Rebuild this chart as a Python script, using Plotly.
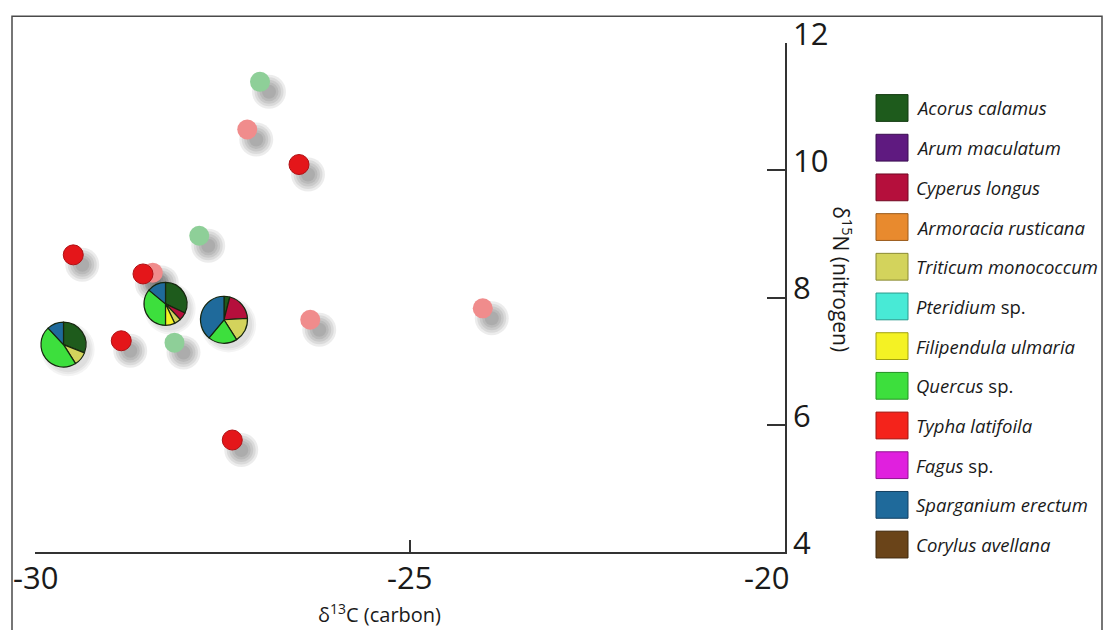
import plotly.graph_objects as go

# ---- figure geometry -------------------------------------------------------
W, H = 1108, 630
ML, MR, MT, MB = 35, 323, 39, 78
X_RANGE = [-30, -20]
Y_RANGE = [4, 12]
PLOT_W = W - ML - MR
PLOT_H = H - MT - MB

# ---- data ------------------------------------------------------------------
# δ13C (x) / δ15N (y) values of single samples
red_x = [-29.49, -28.56, -28.85, -27.37, -26.48]
red_y = [8.67, 8.37, 7.32, 5.76, 10.09]
pale_red_x = [-28.43, -27.17, -26.33, -24.03]
pale_red_y = [8.39, 10.64, 7.65, 7.83]
pale_green_x = [-27.00, -27.81, -28.14]
pale_green_y = [11.39, 8.97, 7.29]

# composite samples shown as pies (percent of each taxon)
pie_x = [-29.62, -28.26, -27.48]
pie_y = [7.26, 7.90, 7.65]

species = [
    "Acorus calamus", "Arum maculatum", "Cyperus longus", "Armoracia rusticana",
    "Triticum monococcum", "Pteridium sp.", "Filipendula ulmaria", "Quercus sp.",
    "Typha latifoila", "Fagus sp.", "Sparganium erectum", "Corylus avellana",
]
pie_values = [
    [31, 0, 0, 0, 10, 0, 0, 47, 0, 0, 12, 0],
    [32, 0, 6, 0, 5, 0, 7, 36, 0, 0, 14, 0],
    [4, 0, 20, 0, 17, 0, 0, 20, 0, 0, 39, 0],
]

x_ticks = [-30, -25, -20]
x_tick_text = ["-30", "-25", "-20"]
y_ticks = [4, 6, 8, 10, 12]
y_tick_text = ["4", "6", "8", "10", "12"]

# ---- styles ----------------------------------------------------------------
species_colors = [
    "#1e5b1c", "#5f1a80", "#b50f3c", "#e88a2e", "#d3d35c", "#48ead6",
    "#f4f224", "#3ddf3d", "#f4231b", "#e020de", "#1f6a9b", "#6a4419",
]
species_edges = [
    "#123a10", "#3a0e50", "#700822", "#9a5a1a", "#8a8a30", "#2a9a8c",
    "#a0a010", "#229022", "#a01510", "#901090", "#123f60", "#3f280c",
]
x_label_anchor = ["center", "center", "right"]
x_label_shift = [0, -1, 5]
pie_radius_px = [22.7, 21.7, 23.7]
POINT_SIZE = 20
SHADOW_DX_PX, SHADOW_DY_PX = 9, 10
FONT = "Open Sans, Noto Sans, sans-serif"
TXT = "#1a1a1a"

x_per_px = (X_RANGE[1] - X_RANGE[0]) / PLOT_W
y_per_px = (Y_RANGE[1] - Y_RANGE[0]) / PLOT_H


def paper_x(v):
    return (v - X_RANGE[0]) / (X_RANGE[1] - X_RANGE[0])


def paper_y(v):
    return (v - Y_RANGE[0]) / (Y_RANGE[1] - Y_RANGE[0])


def px_x(px):
    return (px - ML) / PLOT_W


def px_y(py):
    return (H - MB - py) / PLOT_H


fig = go.Figure()

# soft drop shadows (stacked translucent discs)
all_x = red_x + pale_red_x + pale_green_x
all_y = red_y + pale_red_y + pale_green_y
sx = [v + SHADOW_DX_PX * x_per_px for v in all_x]
sy = [v - SHADOW_DY_PX * y_per_px for v in all_y]
for grow in [14, 9, 4, -1, -6]:
    fig.add_trace(go.Scatter(
        x=sx, y=sy, mode="markers", hoverinfo="skip", showlegend=False,
        marker=dict(size=POINT_SIZE + grow, color="rgba(0,0,0,0.075)", line=dict(width=0)),
    ))
psx = [v + 0.5 * SHADOW_DX_PX * x_per_px for v in pie_x]
psy = [v - 0.5 * SHADOW_DY_PX * y_per_px for v in pie_y]
for grow in [8, 4, 0]:
    fig.add_trace(go.Scatter(
        x=psx, y=psy, mode="markers", hoverinfo="skip", showlegend=False,
        marker=dict(size=[2 * r + grow for r in pie_radius_px],
                    color="rgba(0,0,0,0.06)", line=dict(width=0)),
    ))

fig.add_trace(go.Scatter(
    x=pale_green_x, y=pale_green_y, mode="markers", showlegend=False,
    marker=dict(size=POINT_SIZE, color="#8ecf98", line=dict(width=0)),
))
fig.add_trace(go.Scatter(
    x=pale_red_x, y=pale_red_y, mode="markers", showlegend=False,
    marker=dict(size=POINT_SIZE, color="#f08c8c", line=dict(width=0)),
))
fig.add_trace(go.Scatter(
    x=red_x, y=red_y, mode="markers", showlegend=False,
    marker=dict(size=POINT_SIZE, color="#e4161a", line=dict(width=1, color="#b01014")),
))

# pies placed at their data coordinates
for cx, cy, r, vals in zip(pie_x, pie_y, pie_radius_px, pie_values):
    keep = [i for i, v in enumerate(vals) if v > 0]
    hx = r / PLOT_W
    hy = r / PLOT_H
    fig.add_trace(go.Pie(
        labels=[species[i] for i in keep],
        values=[vals[i] for i in keep],
        marker=dict(colors=[species_colors[i] for i in keep],
                    line=dict(color="#16260f", width=1.2)),
        sort=False, direction="clockwise", rotation=0,
        textinfo="none", hoverinfo="label+percent", showlegend=False,
        domain=dict(x=[paper_x(cx) - hx, paper_x(cx) + hx],
                    y=[paper_y(cy) - hy, paper_y(cy) + hy]),
    ))

shapes = []
annotations = []

# outer frame
shapes.append(dict(type="rect", xref="paper", yref="paper",
                   x0=px_x(12), x1=px_x(1102), y0=px_y(660), y1=px_y(12),
                   line=dict(color="#4a4a4a", width=1.5), fillcolor="rgba(0,0,0,0)"))

# x tick labels, placed on the x scale below the axis line
for v, t, anc, sh in zip(x_ticks, x_tick_text, x_label_anchor, x_label_shift):
    annotations.append(dict(xref="x", yref="paper", x=v, y=px_y(555),
                            text=t, showarrow=False, xanchor=anc, yanchor="top",
                            xshift=sh, borderpad=0,
                            font=dict(family=FONT, size=31, color=TXT)))

# species key
for i, (name, col, edge) in enumerate(zip(species, species_colors, species_edges)):
    yc = 104.5 + 40 * i
    shapes.append(dict(type="rect", xref="paper", yref="paper",
                       x0=px_x(876), x1=px_x(908), y0=px_y(yc + 13.5), y1=px_y(yc - 13.5),
                       fillcolor=col, line=dict(color=edge, width=1)))
    if name.endswith(" sp."):
        label = "<i>" + name[:-4] + "</i> sp."
    else:
        label = "<i>" + name + "</i>"
    annotations.append(dict(xref="paper", yref="paper", x=px_x(914), y=px_y(yc),
                            text=label, showarrow=False, xanchor="left", yanchor="middle",
                            font=dict(family=FONT, size=18.5, color=TXT)))

# axis titles
annotations.append(dict(xref="paper", yref="paper", x=px_x(379), y=px_y(614),
                        text="δ<sup>13</sup>C (carbon)", showarrow=False,
                        xanchor="center", yanchor="middle", borderpad=0,
                        font=dict(family=FONT, size=20, color=TXT)))
annotations.append(dict(xref="paper", yref="paper", x=px_x(843), y=px_y(277),
                        text="δ<sup>15</sup>N (nitrogen)", showarrow=False, textangle=90,
                        xanchor="center", yanchor="middle",
                        font=dict(family=FONT, size=21, color=TXT)))

fig.update_layout(
    width=W, height=H,
    margin=dict(l=ML, r=MR, t=MT, b=MB, pad=0),
    paper_bgcolor="white", plot_bgcolor="white",
    font=dict(family=FONT, color=TXT),
    shapes=shapes, annotations=annotations,
    xaxis=dict(range=X_RANGE, showgrid=False, zeroline=False,
               showline=True, linecolor="#333333", linewidth=1.5,
               ticks="inside", ticklen=12, tickwidth=1.5, tickcolor="#333333",
               tickvals=x_ticks, showticklabels=False),
    yaxis=dict(range=Y_RANGE, side="right", showgrid=False, zeroline=False,
               showline=True, linecolor="#333333", linewidth=1.5,
               ticks="inside", ticklen=18, tickwidth=1.5, tickcolor="#333333",
               tickvals=y_ticks, ticktext=y_tick_text, ticklabelshift=-9,
               tickfont=dict(family=FONT, size=31, color=TXT)),
)

fig.write_html("out.html")
